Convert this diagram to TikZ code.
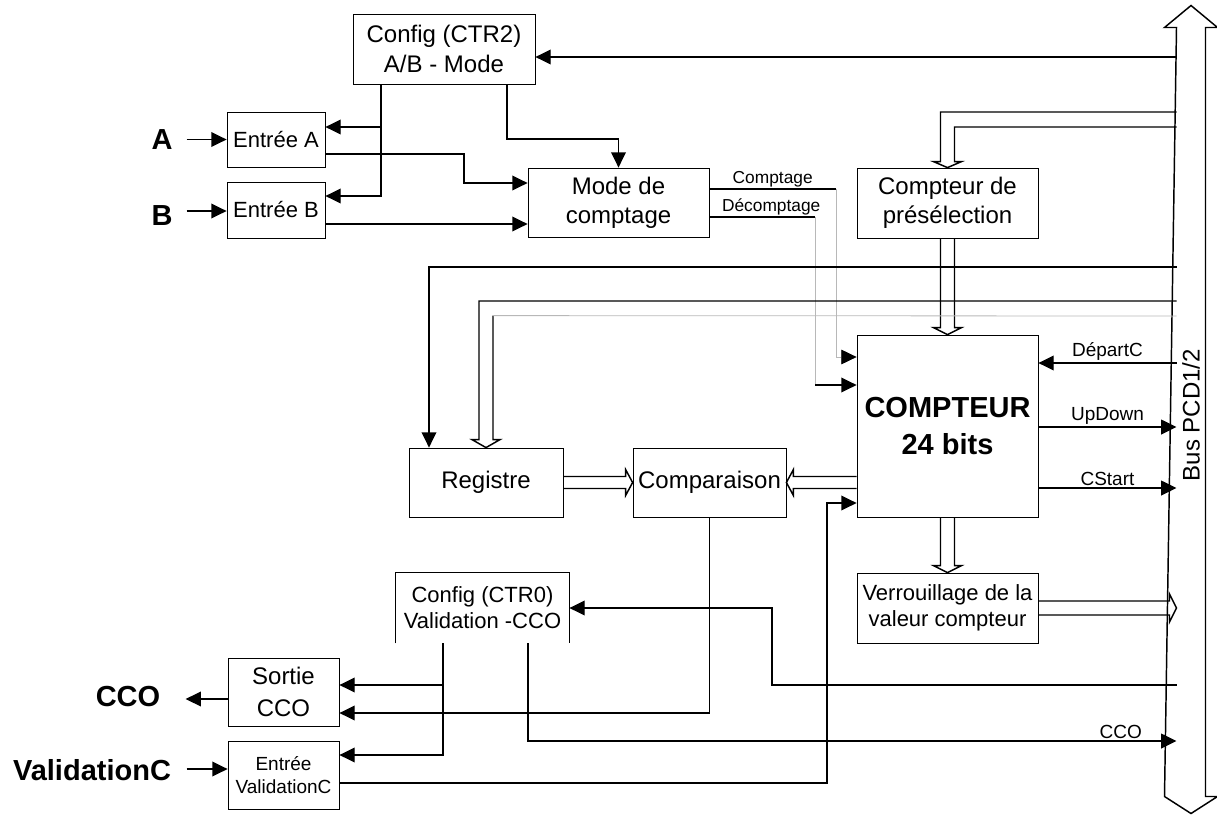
\documentclass[tikz,border=0pt]{standalone}
\usepackage{fontspec}
\setmainfont{Liberation Sans}
\usetikzlibrary{arrows.meta,calc}

\tikzset{every picture/.style={line width=0.75pt}}
\tikzset{
  blk/.style={draw, line width=0.6pt, inner sep=0pt, align=center, font=\fontsize{18}{22}\selectfont},
  sig/.style={line width=1.1pt, -{Triangle[length=11.5pt,width=11pt]}},
  wire/.style={line width=1.1pt},
  hol/.style={line width=1.1pt, line join=miter},
  faint/.style={line width=0.6pt, color=black!28},
  extlbl/.style={font=\bfseries\fontsize{21.75}{24}\selectfont, inner sep=0pt},
  siglbl/.style={font=\fontsize{14.25}{16}\selectfont, inner sep=1.5pt},
  cntlbl/.style={font=\fontsize{13}{15}\selectfont, inner sep=1pt},
}

\begin{document}
\begin{tikzpicture}[x=0.75pt,y=0.75pt,yscale=-1,xscale=1]
\useasboundingbox (0,0) rectangle (1217,814);

% Blocs
\node[blk, minimum width=136.5pt, minimum height=52.5pt] (cfgB) at (444,49) {Config (CTR2)\\A/B - Mode};
\node[blk, font=\fontsize{16.5}{19}\selectfont, minimum width=73.5pt, minimum height=41.25pt] (inA) at (276,139.5) {Entrée A};
\node[blk, font=\fontsize{16.5}{19}\selectfont, minimum width=73.5pt, minimum height=42pt] (inB) at (276,210) {Entrée B};
\node[blk, minimum width=135.75pt, minimum height=51.75pt] (mode) at (618.5,202.5) {Mode de\\comptage};
\node[blk, minimum width=135.75pt, minimum height=52.5pt] (presel) at (947.5,203) {Compteur de\\présélection};
\node[blk, font=\bfseries\fontsize{21.75}{27.5}\selectfont, minimum width=135.75pt, minimum height=136.5pt] (cpt) at (947.5,426) {COMPTEUR\\24 bits};
\node[blk, minimum width=115.5pt, minimum height=51.75pt] (reg) at (486,482.5) {Registre};
\node[blk, minimum width=114.75pt, minimum height=51.75pt] (cmp) at (709.5,482.5) {Comparaison};
\node[blk, font=\fontsize{16.5}{19.5}\selectfont, minimum width=135.75pt, minimum height=52.5pt] (verr) at (947.5,608) {Verrouillage de la\\valeur compteur};
\node[blk, draw=none, font=\fontsize{16.5}{19.5}\selectfont, minimum width=129.75pt, minimum height=52.5pt] (cfgO) at (482.5,608) {Config (CTR0)\\Validation -CCO};
\draw[line width=0.6pt] (cfgO.south west) |- (cfgO.north east) -- (cfgO.south east);
\node[blk, font=\fontsize{18}{24}\selectfont, minimum width=83.25pt, minimum height=51pt] (outC) at (283.5,692) {Sortie\\CCO};
\node[blk, font=\fontsize{14.25}{17}\selectfont, minimum width=83.25pt, minimum height=51pt] (inV) at (283.5,775) {Entrée\\ValidationC};

% Bus
\node[minimum width=21pt, minimum height=576pt, inner sep=0pt] (bus) at (1191,412) {};
\draw[hol] (bus.north west) -- ++(-12,0) -- ($(bus.north)+(0,-22)$) -- ($(bus.north east)+(12,0)$) -- (bus.north east) -- (bus.south east) -- ++(12,0) -- ($(bus.south)+(0,17)$) -- ($(bus.south west)+(-12,0)$) -- cycle;
\node[rotate=90, inner sep=0pt, font=\fontsize{18}{22}\selectfont] (busl) at (bus.center |- 0,415) {Bus PCD1/2};

% Entrees / sorties externes
\node[extlbl] (pA) at (162,140) {A};
\node[extlbl] (pB) at (162,216) {B};
\node[extlbl] (pCCO) at (128,697) {CCO};
\node[extlbl] (pVal) at (92,770) {ValidationC};
\draw[sig] ($(inA.west)+(-40,0)$) -- (inA.west);
\draw[sig] ($(inB.west)+(-40,1)$) -- ($(inB.west)+(0,1)$);
\draw[sig] ($(outC.west)+(0,7)$) -- ++(-42,0);
\draw[sig] ($(inV.west)+(-41,-6)$) -- ($(inV.west)+(0,-6)$);

% Configuration A/B
\draw[sig] (bus.west |- 0,57) -- (cfgB.east |- 0,57);
\draw[sig] (cfgB.south -| 381,0) |- (inB.east |- 0,196);
\draw[sig] (381,127) -- (inA.east |- 0,127);
\draw[sig] (cfgB.south -| 507,0) |- (mode.north |- 0,139) -- (mode.north);
\draw[sig] (inA.east |- 0,154) -| (464,183) -- (mode.west |- 0,183);
\draw[sig] (inB.east |- 0,224) -- (mode.west |- 0,224);

% Comptage / Decomptage
\draw[wire] (mode.east |- 0,189) -- node[above, cntlbl]{Comptage} (836,189);
\draw[faint, -{Triangle[length=11.5pt,width=11pt,color=black,fill=black]}] (836,189) |- (cpt.west |- 0,357);
\draw[wire] (mode.east |- 0,217) -- node[pos=0.585, above, cntlbl]{Décomptage} (815,217);
\draw[faint] (815,217) -- (815,385);
\draw[sig] (815,385) -- (cpt.west |- 0,385);

% Bus vers preselection et compteur
\draw[hol] (bus.west |- 0,112) -| ($(presel.north)+(-7,-6)$) -- ++(-7,0) -- (presel.north) -- ++(14,-6) -- ++(-7,0) |- (bus.west |- 0,127);
\draw[hol] ($(presel.south)+(-7,0)$) -- ($(cpt.north)+(-7,-7)$) -- ++(-7,0) -- (cpt.north) -- ++(14,-7) -- ++(-7,0) -- ($(presel.south)+(7,0)$);

% Bus vers registre
\draw[sig] (bus.west |- 0,267) -| (reg.north -| 429,0);
\draw[hol] (bus.west |- 0,301) -| ($(reg.north)+(-7,-8)$) -- ++(-7,0) -- (reg.north) -- ++(14,-8) -- ++(-7,0) -- ($(reg.north)+(7,-132)$);
\draw[faint] ($(reg.north)+(7,-132)$) -- (bus.west |- 0,316);

% Comparaison
\draw[hol] ($(reg.east)+(0,-6)$) -- ($(cmp.west)+(-7,-6)$) -- ++(0,-7) -- (cmp.west) -- ++(-7,13) -- ++(0,-7) -- ($(reg.east)+(0,6)$);
\draw[hol] ($(cpt.west |- cmp.east)+(0,-6)$) -- ($(cmp.east)+(7,-6)$) -- ++(0,-7) -- (cmp.east) -- ++(7,13) -- ++(0,-7) -- ($(cpt.west |- cmp.east)+(0,6)$);

% Compteur vers verrouillage et bus
\draw[hol] ($(cpt.south)+(-7,0)$) -- ($(verr.north)+(-7,-7)$) -- ++(-7,0) -- (verr.north) -- ++(14,-7) -- ++(-7,0) -- ($(cpt.south)+(7,0)$);
\draw[hol] ($(verr.east)+(0,-7)$) -- ($(bus.west |- verr.east)+(-7,-7)$) -- ++(0,-7) -- (bus.west |- verr.east) -- ++(-7,14) -- ++(0,-7) -- ($(verr.east)+(0,7)$);

% Signaux du compteur
\draw[sig] (bus.west |- 0,363) -- node[above, siglbl]{DépartC} (cpt.east |- 0,363);
\draw[sig] (cpt.east |- 0,427) -- node[above, siglbl]{UpDown} (bus.west |- 0,427);
\draw[sig] (cpt.east |- 0,488) -- node[above, siglbl]{CStart} (bus.west |- 0,488);

% Configuration CCO
\draw[sig] (bus.west |- 0,685) -| (772,608) -- (cfgO.east);
\draw[sig] (cfgO.south -| 443,0) |- (inV.east |- 0,755);
\draw[sig] (443,685) -- (outC.east |- 0,685);
\draw[sig] (cfgO.south -| 528,0) |- node[pos=0.957, above, siglbl]{CCO} (bus.west |- 0,741);
\draw[sig] (cmp.south) |- (outC.east |- 0,713);
\draw[sig] (inV.east |- 0,783) -| (827,503) -- (cpt.west |- 0,503);

\end{tikzpicture}
\end{document}
